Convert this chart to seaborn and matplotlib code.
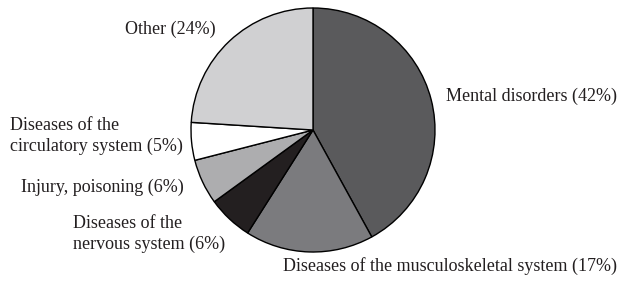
import matplotlib
matplotlib.use('Agg')
import matplotlib.pyplot as plt
import seaborn as sns

categories = ['Mental disorders', 'Diseases of the musculoskeletal system',
              'Diseases of the\nnervous system', 'Injury, poisoning',
              'Diseases of the\ncirculatory system', 'Other']
shares = [42, 17, 6, 6, 5, 24]
colors = ['#5a5a5c', '#7b7b7e', '#231f20', '#adadaf', '#ffffff', '#d0d0d2']

sns.set_theme(style="white")
plt.rcParams['font.family'] = ['Liberation Serif', 'DejaVu Serif']

fig = plt.figure(figsize=(6.2, 2.82), dpi=100)
ax = fig.add_axes([0, 0, 1, 1])

H = 282
ax.pie(shares, colors=colors, startangle=90, counterclock=False,
       center=(313, H - 130), radius=122,
       wedgeprops=dict(edgecolor='black', linewidth=1.0))
ax.set_xlim(0, 620)
ax.set_ylim(0, 282)
ax.set_aspect('equal')
ax.axis('off')

labels = [f"{c} ({s}%)" for c, s in zip(categories, shares)]
# label placement (pixel coords from top-left)
place = [
    (446, 96, 'left'),
    (283, 266, 'left'),
    (73, 234, 'left'),
    (184, 187, 'right'),
    (10, 136, 'left'),
    (216, 29, 'right'),
]
for lab, (x, y, ha) in zip(labels, place):
    ax.text(x, H - y, lab, ha=ha, va='center', fontsize=13,
            color='#231f20', linespacing=1.32)

fig.savefig('out.png', dpi=100)
